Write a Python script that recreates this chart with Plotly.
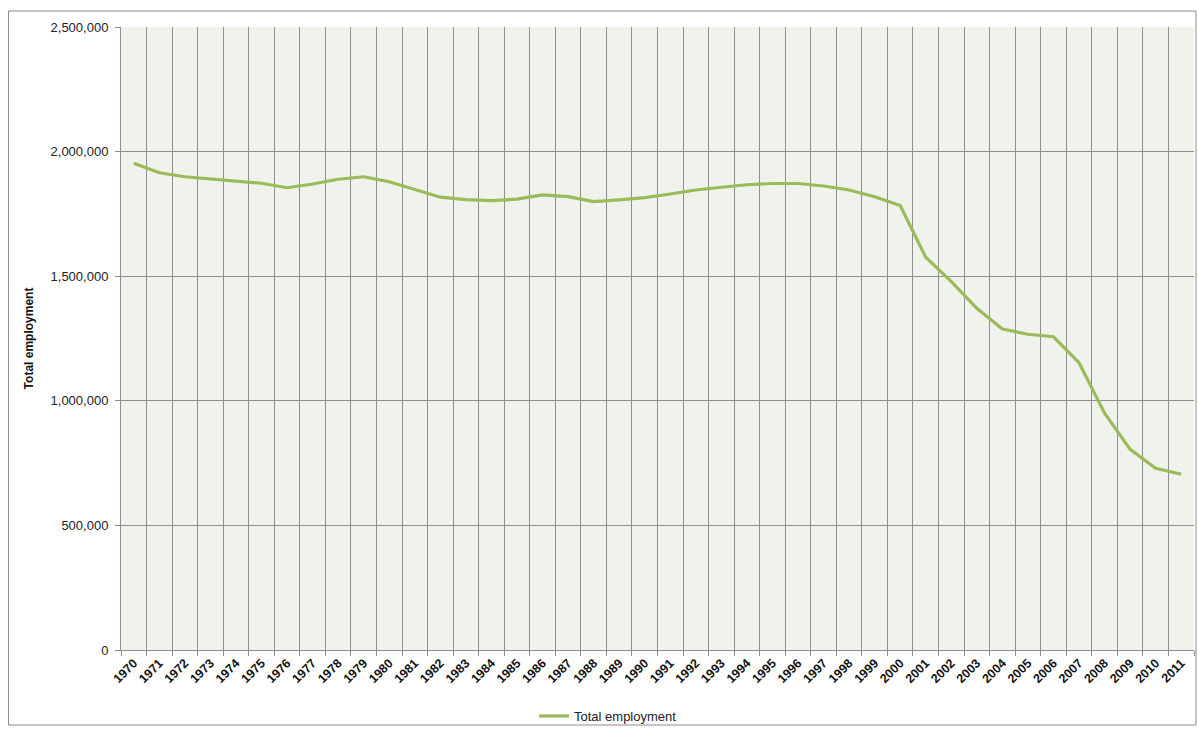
import plotly.graph_objects as go

years = [str(y) for y in range(1970, 2012)]
total_employment = [
    1953000, 1915000, 1899000, 1890000, 1883000, 1873000, 1855000, 1870000,
    1889000, 1899000, 1879000, 1849000, 1817000, 1807000, 1803000, 1809000,
    1826000, 1819000, 1799000, 1806000, 1815000, 1830000, 1846000, 1857000,
    1867000, 1872000, 1872000, 1862000, 1846000, 1819000, 1784000, 1576000,
    1478000, 1371000, 1288000, 1267000, 1257000, 1153000, 950000, 805000,
    729000, 705000,
]
y_ticks = [0, 500000, 1000000, 1500000, 2000000, 2500000]
y_tick_labels = ["0", "500,000", "1,000,000", "1,500,000", "2,000,000", "2,500,000"]

W, H = 1198, 731
L, R, T, B = 121, 4, 27, 81
pw = W - L - R
ph = H - T - B

fig = go.Figure()
fig.add_trace(go.Scatter(
    x=years, y=total_employment, mode="lines", name="Total employment",
    line=dict(color="#9BBB59", width=3.2),
))

font = "Liberation Sans"
fig.update_layout(
    width=W, height=H,
    margin=dict(l=L, r=R, t=T, b=B, autoexpand=False),
    paper_bgcolor="white",
    plot_bgcolor="#F0F3EB",
    font=dict(family=font, size=13, color="#222"),
    showlegend=True,
    legend=dict(
        orientation="h", x=(608 - L) / pw, xanchor="center",
        y=(T + ph - 716) / ph, yanchor="middle",
        font=dict(family=font, size=13, color="#222"),
        bgcolor="rgba(0,0,0,0)",
    ),
    xaxis=dict(
        type="category", tickson="boundaries",
        range=[-0.5, len(years) - 0.5],
        tickangle=-45,
        tickfont=dict(family=font, size=12.5, color="#111", weight="bold"),
        showgrid=True, gridcolor="#8E8E8E", gridwidth=1,
        ticks="outside", ticklen=5, tickcolor="#8E8E8E",
        showline=True, linecolor="#8E8E8E", linewidth=1,
        zeroline=False, automargin=False,
    ),
    yaxis=dict(
        range=[0, 2500000],
        tickvals=y_ticks, ticktext=y_tick_labels,
        tickfont=dict(family=font, size=13, color="#222"),
        showgrid=True, gridcolor="#8E8E8E", gridwidth=1,
        ticks="outside", ticklen=5, tickcolor="#8E8E8E",
        showline=True, linecolor="#8E8E8E", linewidth=1,
        zeroline=False, automargin=False,
        ticklabelstandoff=4,
        title=dict(text="Total employment", standoff=14,
                   font=dict(family=font, size=12, color="#111", weight="bold")),
    ),
)

# outer chart border
fig.add_shape(
    type="rect", xref="paper", yref="paper",
    x0=(8.5 - L) / pw, x1=(1196 - L) / pw,
    y0=(T + ph - 725) / ph, y1=(T + ph - 11) / ph,
    line=dict(color="#8C8C8C", width=1), fillcolor="rgba(0,0,0,0)",
    layer="below",
)

fig.write_html(
    "out.html",
    config={"displayModeBar": False},
    post_script="document.body.style.margin='0';document.body.style.overflow='hidden';",
)
